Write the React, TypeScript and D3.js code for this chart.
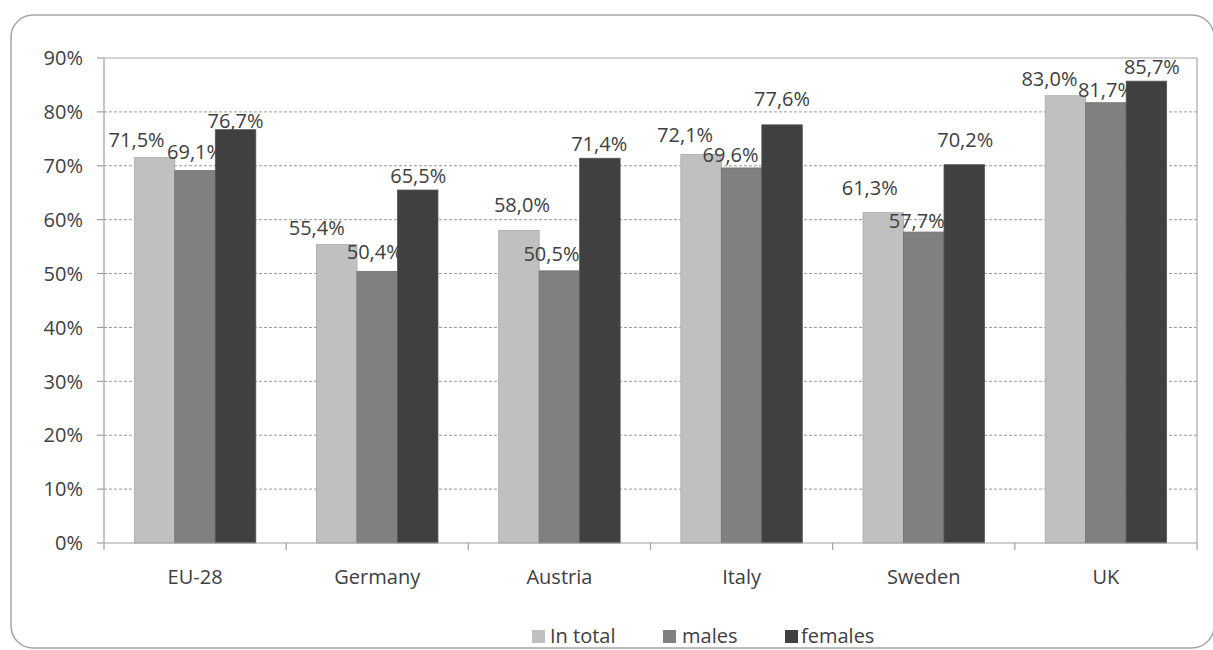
import React from "react";
import * as d3 from "d3";

const categories = ["EU-28", "Germany", "Austria", "Italy", "Sweden", "UK"];
const seriesNames = ["In total", "males", "females"];
const inTotal = [71.5, 55.4, 58.0, 72.1, 61.3, 83.0];
const males = [69.1, 50.4, 50.5, 69.6, 57.7, 81.7];
const females = [76.7, 65.5, 71.4, 77.6, 70.2, 85.7];
const yTicks = [0, 10, 20, 30, 40, 50, 60, 70, 80, 90];

// layout / style (not data)
const seriesFill = ["#c0c0c0", "#808080", "#404040"];
const seriesStroke = ["#a9a9a9", "#6e6e6e", "#555555"];
// label nudges [dx, dy from bar top] per category, per series
const labelNudge = [
  [[-18, -11], [0, -12], [0, -1.5]],
  [[-20, -9], [-2.5, -12], [0.5, -7]],
  [[3, -18], [-8, -10], [-0.7, -7]],
  [[-16, -12], [-11, -6], [0, -19]],
  [[-13.5, -18], [-7, -4], [1, -18]],
  [[-16, -10], [0, -6], [5.5, -7]],
];

const W = 1213;
const H = 650;
const plot = { left: 104, right: 1197, top: 58, bottom: 543 };
const FONT = "'Open Sans', sans-serif";
const FS = 20;
const TEXT = "#404040";

export default function App() {
  const seriesValues = [inTotal, males, females];
  const x = d3
    .scaleBand<string>()
    .domain(categories)
    .range([plot.left, plot.right])
    .paddingInner(0)
    .paddingOuter(0);
  const xs = d3
    .scaleBand<string>()
    .domain(seriesNames)
    .range([0, x.bandwidth()])
    .paddingInner(0)
    .paddingOuter(0.75);
  const y = d3.scaleLinear().domain([0, 90]).range([plot.bottom, plot.top]);
  const fmt = (v: number) => v.toFixed(1).replace(".", ",") + "%";

  const boundaries = categories.map((c) => x(c) as number).concat([plot.right]);

  const legendItems = [
    { sq: 532, tx: 550 },
    { sq: 663, tx: 682 },
    { sq: 785, tx: 801 },
  ];

  return (
    <div style={{ position: "absolute", left: 0, top: 0 }}>
      <svg width={W} height={H} style={{ display: "block", fontFamily: FONT }}>
        <rect x={0} y={0} width={W} height={H} fill="#ffffff" />
        <rect
          x={11}
          y={15}
          width={W - 11 + 1}
          height={633}
          rx={22}
          ry={22}
          fill="#ffffff"
          stroke="#a6a6a6"
          strokeWidth={1.5}
        />
        {/* gridlines */}
        {yTicks
          .filter((t) => t > 0 && t < 90)
          .map((t) => (
            <line
              key={"g" + t}
              x1={plot.left}
              x2={plot.right}
              y1={y(t)}
              y2={y(t)}
              stroke="#9a9a9a"
              strokeWidth={1}
              strokeDasharray="3,2"
            />
          ))}
        {/* plot border top/right */}
        <line x1={plot.left} x2={plot.right} y1={plot.top} y2={plot.top} stroke="#a6a6a6" strokeWidth={1.2} />
        <line x1={plot.right} x2={plot.right} y1={plot.top} y2={plot.bottom} stroke="#a6a6a6" strokeWidth={1.2} />
        {/* bars */}
        {categories.map((c, ci) =>
          seriesNames.map((s, si) => {
            const v = seriesValues[si][ci];
            const bx = (x(c) as number) + (xs(s) as number);
            return (
              <rect
                key={c + s}
                x={bx}
                y={y(v)}
                width={xs.bandwidth()}
                height={y(0) - y(v)}
                fill={seriesFill[si]}
                stroke={seriesStroke[si]}
                strokeWidth={0.8}
              />
            );
          })
        )}
        {/* axes */}
        <line x1={plot.left} x2={plot.left} y1={plot.top} y2={plot.bottom} stroke="#a0a0a0" strokeWidth={1.2} />
        <line x1={plot.left} x2={plot.right} y1={plot.bottom} y2={plot.bottom} stroke="#a0a0a0" strokeWidth={1.2} />
        {yTicks.map((t) => (
          <g key={"yt" + t}>
            <line x1={plot.left - 7} x2={plot.left} y1={y(t)} y2={y(t)} stroke="#a0a0a0" strokeWidth={1.2} />
            <text
              x={83}
              y={y(t)}
              dy="0.36em"
              textAnchor="end"
              fontSize={FS}
              fill={TEXT}
            >
              {t + "%"}
            </text>
          </g>
        ))}
        {boundaries.map((bx, i) => (
          <line key={"xt" + i} x1={bx} x2={bx} y1={plot.bottom} y2={plot.bottom + 7} stroke="#a0a0a0" strokeWidth={1.2} />
        ))}
        {categories.map((c) => (
          <text
            key={"xl" + c}
            x={(x(c) as number) + x.bandwidth() / 2}
            y={584}
            textAnchor="middle"
            fontSize={FS}
            fill={TEXT}
          >
            {c}
          </text>
        ))}
        {/* data labels */}
        {categories.map((c, ci) =>
          seriesNames.map((s, si) => {
            const v = seriesValues[si][ci];
            const cx = (x(c) as number) + (xs(s) as number) + xs.bandwidth() / 2;
            const [dx, dy] = labelNudge[ci][si];
            return (
              <text
                key={"l" + c + s}
                x={cx + dx}
                y={y(v) + dy}
                textAnchor="middle"
                fontSize={FS}
                fill={TEXT}
              >
                {fmt(v)}
              </text>
            );
          })
        )}
        {/* legend */}
        {seriesNames.map((s, si) => (
          <g key={"lg" + s}>
            <rect x={legendItems[si].sq} y={630} width={13} height={13} fill={seriesFill[si]} />
            <text x={legendItems[si].tx} y={643} fontSize={FS} fill={TEXT}>
              {s}
            </text>
          </g>
        ))}
      </svg>
    </div>
  );
}
